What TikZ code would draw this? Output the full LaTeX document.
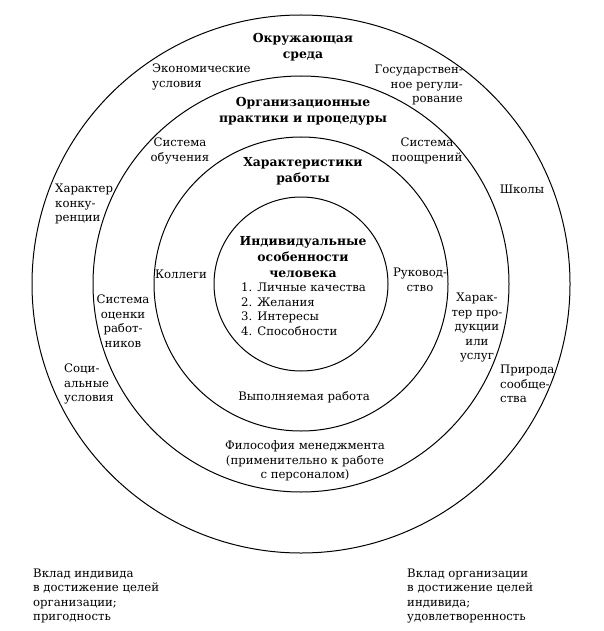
\documentclass[tikz,border=0pt]{standalone}
\usepackage{fontspec}
\setmainfont{DejaVu Serif}

\tikzset{
  txt/.style={font=\fontsize{11.7}{14.5}\selectfont, align=center, inner sep=0pt},
  txtl/.style={txt, align=left, anchor=west},
  txtr/.style={txt, align=right, anchor=east},
  head/.style={txt, font=\fontsize{12.4}{16}\selectfont\bfseries},
  ring/.style={line width=1pt}
}

\begin{document}
\begin{tikzpicture}[x=1pt,y=-1pt]
\useasboundingbox (0,0) rectangle (603,631);
\coordinate (O) at (301,284);
\foreach \r in {269,208,147,87}
  \draw[ring] (O) circle[radius=\r];

\node[head] (env) at (303,47) {Окружающая\\среда};
\node[txtl] (econ) at (152,77) {Экономические\\условия};
\node[txtr] (gov) at (463,85) {Государствен-\\ное регули-\\рование};

\node[head] (org) at (303,111) {Организационные\\практики и процедуры};
\node[txt] (train) at (180,151) {Система\\обучения};
\node[txt] (reward) at (427,151) {Система\\поощрений};

\node[head] (job) at (303,171) {Характеристики\\работы};
\node[txtl] (compet) at (55,204) {Характер\\конку-\\ренции};
\node[txt] (school) at (522,189) {Школы};

\node[head] (indiv) at (303,257) {Индивидуальные\\особенности\\человека};
\node[txtl] (traits) at (241,309) {1. Личные качества\\2. Желания\\3. Интересы\\4. Способности};
\node[txt] (peers) at (181,274) {Коллеги};
\node[txt] (lead) at (420,280) {Руковод-\\ство};

\node[txt] (appr) at (123,321) {Система\\оценки\\работ-\\ников};
\node[txt] (prod) at (477,328) {Харак-\\тер про-\\дукции\\или\\услуг};
\node[txtl] (social) at (64,384) {Соци-\\альные\\условия};
\node[txtl] (nature) at (500,384) {Природа\\сообще-\\ства};

\node[txt] (work) at (304,397) {Выполняемая работа};
\node[txt] (philo) at (305,461) {Философия менеджмента\\(применительно к работе\\с персоналом)};

\node[txtl] (contribA) at (33,596) {Вклад индивида\\в достижение целей\\организации;\\пригодность};
\node[txtl] (contribB) at (407,596) {Вклад организации\\в достижение целей\\индивида;\\удовлетворенность};
\end{tikzpicture}
\end{document}
